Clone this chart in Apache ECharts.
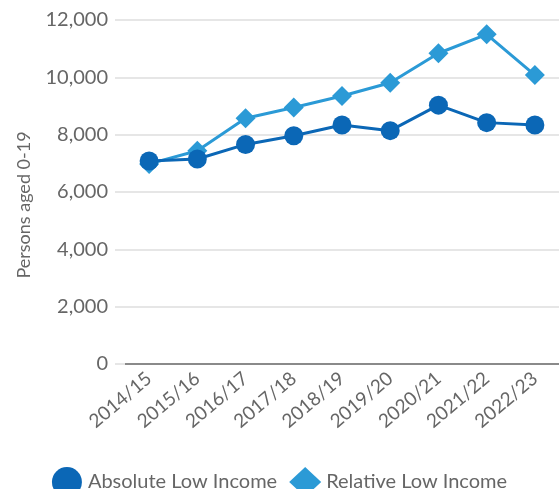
<!DOCTYPE html>
<html><head><meta charset="utf-8">
<script src="https://cdn.jsdelivr.net/npm/echarts@6/dist/echarts.min.js"></script>
<style>html,body{margin:0;padding:0;background:#fff}#c{width:559px;height:489px}</style>
</head><body><div id="c"></div>
<script>
const categories = ["2014/15","2015/16","2016/17","2017/18","2018/19","2019/20","2020/21","2021/22","2022/23"];
const absoluteLow = [7080, 7150, 7660, 7960, 8340, 8140, 9030, 8420, 8340];
const relativeLow = [6980, 7440, 8570, 8950, 9350, 9810, 10840, 11500, 10080];
const yTicks = {min: 0, max: 12000, interval: 2000};
const seriesNames = ["Absolute Low Income", "Relative Low Income"];
const colors = ["#0b67b6", "#2b9ad6"];

const chart = echarts.init(document.getElementById('c'), null, {renderer: 'canvas'});
chart.setOption({
  animation: false,
  textStyle: {fontFamily: 'Lato'},
  grid: {left: 125, right: -1, top: 20, bottom: 125, containLabel: false},
  legend: {
    data: [{name: seriesNames[0], icon: 'circle'}, {name: seriesNames[1], icon: 'diamond'}],
    top: 462, left: 'center',
    itemWidth: 32, itemHeight: 30, itemGap: 12,
    textStyle: {fontFamily: 'Lato', fontSize: 20, color: '#666'}
  },
  xAxis: {
    type: 'category', data: categories, boundaryGap: true,
    axisLine: {lineStyle: {color: '#8a8a8a', width: 2}},
    axisTick: {alignWithLabel: true, length: 9, lineStyle: {color: '#8a8a8a', width: 2}},
    axisLabel: {rotate: 40, fontSize: 19, color: '#666', margin: 12, interval: 0}
  },
  yAxis: {
    type: 'value', min: yTicks.min, max: yTicks.max, interval: yTicks.interval,
    name: 'Persons aged 0-19', nameLocation: 'middle', nameGap: 92, nameRotate: 90,
    nameTextStyle: {fontSize: 18, color: '#666', fontFamily: 'Lato', padding: [0, 26, 0, 0]},
    axisLine: {show: false},
    axisTick: {show: true, length: 10, lineStyle: {color: '#e6e6e6', width: 2}},
    splitLine: {lineStyle: {color: '#e6e6e6', width: 2}},
    axisLabel: {fontSize: 20, color: '#666', margin: 17,
      formatter: v => v.toLocaleString('en-US')}
  },
  series: [
    {name: seriesNames[1], type: 'line', data: relativeLow, symbol: 'diamond', symbolSize: 20,
     color: colors[1], lineStyle: {width: 3, color: colors[1]}, itemStyle: {color: colors[1]}, z: 2},
    {name: seriesNames[0], type: 'line', data: absoluteLow, symbol: 'circle', symbolSize: 19,
     color: colors[0], lineStyle: {width: 3, color: colors[0]}, itemStyle: {color: colors[0]}, z: 3}
  ]
});
</script></body></html>
